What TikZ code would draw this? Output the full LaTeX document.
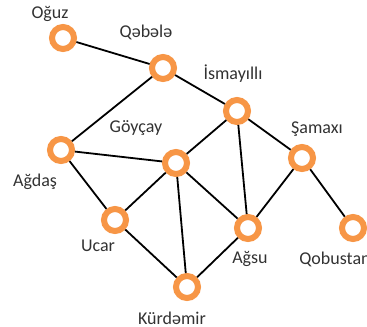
\documentclass[tikz,border=0pt]{standalone}
\usepackage{fontspec}
\setmainfont{Carlito}
\begin{document}
\begin{tikzpicture}[x=1bp,y=-1bp,
  town/.style={circle,draw={rgb,255:red,247;green,150;blue,70},line width=6bp,fill=white,minimum size=22bp,inner sep=0pt},
  lbl/.style={font=\fontsize{18bp}{20bp}\selectfont,text={rgb,255:red,50;green,50;blue,50},inner sep=0pt},
  road/.style={line width=1.8bp,black}]
\useasboundingbox (0,0) rectangle (367,327);
% towns
\node[town] (oguz) at (63,38) {};
\node[town] (qabala) at (163,68) {};
\node[town] (ismayilli) at (237,111) {};
\node[town] (shamaxi) at (302,158) {};
\node[town] (goychay) at (176,163) {};
\node[town] (agdash) at (61,150) {};
\node[town] (ucar) at (115,220) {};
\node[town] (agsu) at (248,228) {};
\node[town] (qobustan) at (353,228) {};
\node[town] (kurdamir) at (187,287) {};
% names
\node[lbl] (loguz) at (50,14) {Oğuz};
\node[lbl] (lqabala) at (146,32) {Qəbələ};
\node[lbl] (lismayilli) at (233,74) {İsmayıllı};
\node[lbl] (lshamaxi) at (317,129) {Şamaxı};
\node[lbl] (lgoychay) at (136,128) {Göyçay};
\node[lbl] (lagdash) at (35,182) {Ağdaş};
\node[lbl] (lucar) at (98,246) {Ucar};
\node[lbl] (lagsu) at (250,259) {Ağsu};
\node[lbl] (lqobustan) at (335,259) {Qobustan};
\node[lbl] (lkurdamir) at (172,318) {Kürdəmir};
% roads between towns
\foreach \a/\b in {oguz/qabala,qabala/ismayilli,qabala/agdash,ismayilli/goychay,
  ismayilli/agsu,ismayilli/shamaxi,agdash/goychay,agdash/ucar,goychay/ucar,
  goychay/kurdamir,goychay/agsu,shamaxi/agsu,shamaxi/qobustan,ucar/kurdamir,kurdamir/agsu}
  \draw[road] (\a) -- (\b);
\end{tikzpicture}
\end{document}
